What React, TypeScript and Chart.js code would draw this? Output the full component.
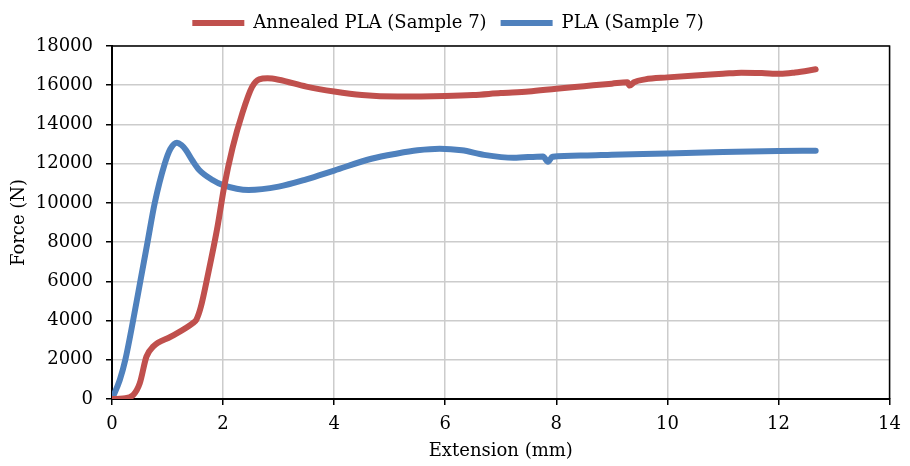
import React, { useEffect, useRef } from "react";
import { Chart, registerables } from "chart.js";

Chart.register(...registerables);

const seriesNames = ["Annealed PLA (Sample 7)", "PLA (Sample 7)"];

const annealedX = [0, 0.2, 0.38, 0.5, 0.62, 0.74, 1.06, 1.45, 1.52, 1.6, 1.72, 1.9, 2.02, 2.17, 2.35, 2.52, 2.65, 2.8, 3.0, 3.5, 4.0, 4.5, 5.14, 6.0, 6.5, 7.0, 7.5, 8.0, 8.5, 9.0, 9.28, 9.32, 9.4, 9.6, 10.0, 10.5, 11.0, 11.33, 11.7, 12.03, 12.3, 12.67];
const annealedY = [0, 30, 200, 800, 2160, 2670, 3180, 3860, 4050, 4700, 6240, 8790, 10830, 12800, 14600, 15900, 16300, 16350, 16280, 15930, 15680, 15500, 15420, 15450, 15500, 15600, 15680, 15820, 15950, 16080, 16150, 15980, 16150, 16300, 16400, 16500, 16580, 16640, 16620, 16580, 16650, 16810];

const plaX = [0, 0.14, 0.24, 0.38, 0.51, 0.64, 0.77, 0.95, 1.05, 1.17, 1.25, 1.33, 1.45, 1.57, 1.81, 2.0, 2.46, 3.0, 3.5, 4.0, 4.67, 5.14, 5.5, 5.9, 6.3, 6.7, 7.23, 7.76, 7.85, 7.93, 8.5, 9.0, 10.0, 11.0, 12.0, 12.67];
const plaY = [0, 970, 2000, 4000, 6000, 8000, 10000, 12000, 12750, 13070, 12950, 12700, 12150, 11680, 11170, 10910, 10660, 10830, 11200, 11650, 12250, 12520, 12680, 12760, 12680, 12450, 12300, 12370, 12100, 12350, 12420, 12460, 12520, 12590, 12650, 12660];

const xTitle = "Extension (mm)";
const yTitle = "Force (N)";

const FONT = "'DejaVu Serif', serif";
const FS = 18;
const RED = "#C0504D";
const BLUE = "#4F81BD";

const legendFitPlugin = {
  id: "legendFit",
  afterInit(chart: any) {
    const legend = chart.legend;
    if (legend) {
      const orig = legend.fit;
      legend.fit = function () {
        orig.call(this);
        this.height = 46;
      };
    }
  },
};

const borderPlugin = {
  id: "frame",
  afterDatasetsDraw(chart: any) {
    const { ctx, chartArea } = chart;
    ctx.save();
    ctx.strokeStyle = "#000";
    ctx.lineWidth = 1.5;
    ctx.beginPath();
    ctx.moveTo(chartArea.left, chartArea.top);
    ctx.lineTo(chartArea.right, chartArea.top);
    ctx.lineTo(chartArea.right, chartArea.bottom);
    ctx.stroke();
    ctx.restore();
  },
};

export default function App() {
  const ref = useRef<HTMLCanvasElement>(null);
  useEffect(() => {
    if (!ref.current) return;
    const toPts = (xs: number[], ys: number[]) => xs.map((x, i) => ({ x, y: ys[i] }));
    const chart = new Chart(ref.current, {
      type: "line",
      data: {
        datasets: [
          {
            label: seriesNames[0],
            data: toPts(annealedX, annealedY),
            borderColor: RED,
            backgroundColor: RED,
            borderWidth: 6,
            borderCapStyle: "round",
            borderJoinStyle: "round",
            pointRadius: 0,
            cubicInterpolationMode: "monotone",
            pointStyle: "line",
          },
          {
            label: seriesNames[1],
            data: toPts(plaX, plaY),
            borderColor: BLUE,
            backgroundColor: BLUE,
            borderWidth: 6,
            borderCapStyle: "round",
            borderJoinStyle: "round",
            pointRadius: 0,
            cubicInterpolationMode: "monotone",
            pointStyle: "line",
          },
        ],
      },
      options: {
        responsive: false,
        animation: false,
        layout: { padding: { left: 0, right: 14, top: 0, bottom: 0 } },
        plugins: {
          tooltip: { enabled: false },
          legend: {
            position: "top",
            labels: {
              usePointStyle: true,
              pointStyleWidth: 52,
              padding: 14,
              color: "#000",
              font: { family: FONT, size: FS },
            },
          },
        },
        scales: {
          x: {
            type: "linear",
            min: 0,
            max: 14,
            ticks: { stepSize: 2, color: "#000", font: { family: FONT, size: FS }, padding: 9, maxRotation: 0, callback: (v: any) => String(v) },
            grid: { color: "#cccccc", lineWidth: 1.5, tickColor: "#000", tickLength: 6, tickWidth: 1.5 },
            border: { color: "#000", width: 2 },
            title: { display: true, text: xTitle, color: "#000", font: { family: FONT, size: FS }, padding: { top: 0, bottom: 4 } },
            afterFit: (s: any) => { s.height = 67; },
          },
          y: {
            type: "linear",
            min: 0,
            max: 18000,
            ticks: { stepSize: 2000, color: "#000", font: { family: FONT, size: FS }, padding: 13, callback: (v: any) => String(v) },
            grid: { color: "#cccccc", lineWidth: 1.5, tickColor: "#000", tickLength: 6, tickWidth: 1.5 },
            border: { color: "#000", width: 2 },
            title: { display: true, text: yTitle, color: "#000", font: { family: FONT, size: FS }, padding: { top: 9, bottom: 0 } },
            afterFit: (s: any) => { s.width = 112; },
          },
        },
      },
      plugins: [legendFitPlugin, borderPlugin],
    } as any);
    return () => chart.destroy();
  }, []);
  return (
    <div style={{ position: "fixed", left: 0, top: 0, width: 910, height: 466, background: "#fff" }}>
      <canvas ref={ref} width={910} height={466} />
    </div>
  );
}
